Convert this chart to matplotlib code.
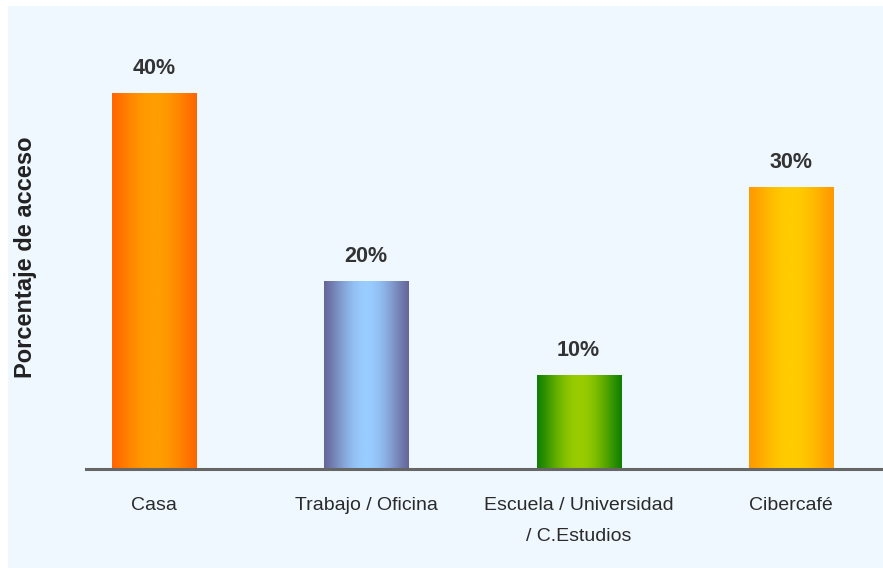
import numpy as np
import matplotlib.pyplot as plt
from matplotlib.colors import LinearSegmentedColormap
from matplotlib.patches import Rectangle

plt.rcParams['font.family'] = ['Liberation Sans', 'DejaVu Sans']

categories = ["Casa", "Trabajo / Oficina", "Escuela / Universidad\n/ C.Estudios", "Cibercafé"]
values = [40, 20, 10, 30]
labels = ["40%", "20%", "10%", "30%"]
# edge colour, centre colour of each bar gradient
edge_colors = ["#ff6600", "#666699", "#118000", "#ff9900"]
center_colors = ["#ff9e00", "#99ccff", "#99cc00", "#ffcc00"]

W, H = 883, 568
fig = plt.figure(figsize=(W / 100, H / 100), dpi=100)
fig.patch.set_facecolor("white")
fig.patches.append(Rectangle((8 / W, 0), 1, 1 - 6 / H, transform=fig.transFigure,
                             facecolor="#eff7ff", edgecolor="none", zorder=-10))

ax = fig.add_axes([86 / W, 1 - 469 / H, 795 / W, 463 / H])
ax.set_facecolor("none")

bw = 0.396
t = np.linspace(0, 1, 256)
prof = np.sin(np.pi * t) ** 1.2
for i, (v, e, c) in enumerate(zip(values, edge_colors, center_colors)):
    cmap = LinearSegmentedColormap.from_list(f"g{i}", [e, c])
    ax.imshow(prof[None, :], cmap=cmap, aspect="auto", vmin=0, vmax=1,
              extent=(i - bw / 2, i + bw / 2, 0, v), zorder=2, interpolation="bilinear")
    ax.annotate(labels[i], (i, v), xytext=(0, 18), textcoords="offset points",
                ha="center", va="center", fontsize=15.5, fontweight="bold", color="#333333")

ax.set_xlim(-0.32, 3.424)
ax.set_ylim(0, 463 / 9.4)
ax.axhline(0, color="#666666", lw=2.2, zorder=3, clip_on=False)
for s in ax.spines.values():
    s.set_visible(False)
ax.set_yticks([])
ax.set_xticks(range(len(categories)))
ax.set_xticklabels(categories, fontsize=14, color="#2a2a2a", linespacing=2.1, va="top")
ax.tick_params(axis="x", length=0, pad=20)

fig.text(26 / W, 1 - 257 / H, "Porcentaje de acceso", rotation=90, ha="center", va="center",
         fontsize=17, fontweight="bold", color="#222222")

fig.savefig("out.png", dpi=100)
